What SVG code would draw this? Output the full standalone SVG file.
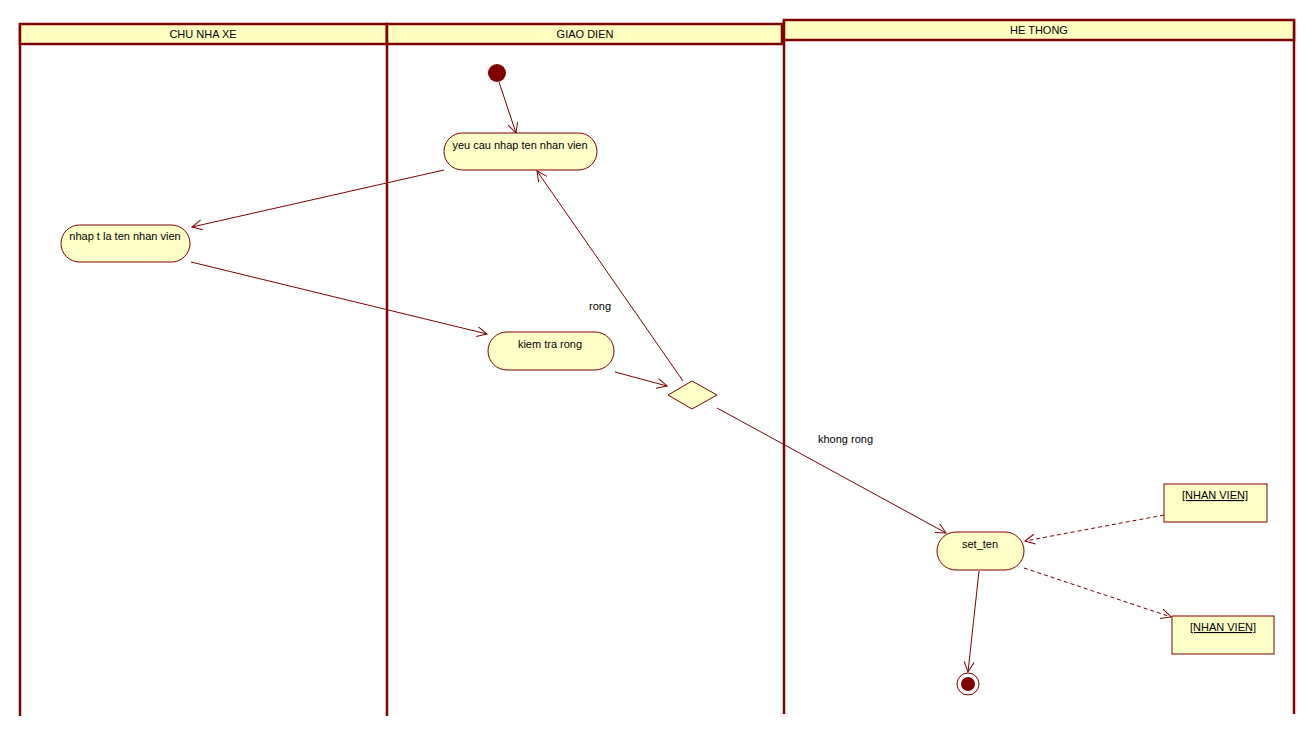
<svg xmlns="http://www.w3.org/2000/svg" width="1316" height="736" viewBox="0 0 1316 736">
  <style>
    .lane { fill: none; stroke: #800000; stroke-width: 2.5; }
    .hdr { fill: #ffffc0; stroke: #800000; stroke-width: 2.5; }
    .act { fill: #ffffc8; stroke: #800000; stroke-width: 1; }
    .obj { fill: #ffffc8; stroke: #800000; stroke-width: 1; }
    .dec { fill: #ffffc8; stroke: #800000; stroke-width: 1; }
    .t { font-family: "Liberation Sans", Arial, sans-serif; font-size: 11px; fill: #000; text-anchor: middle; }
    .lbl { font-family: "Liberation Sans", Arial, sans-serif; font-size: 11px; fill: #000; }
    .u { text-decoration: underline; }
    .flow { fill: none; stroke: #800000; stroke-width: 1; }
    .dash { fill: none; stroke: #800000; stroke-width: 1; stroke-dasharray: 4 3; }
  </style>
  <defs>
    <marker id="open" viewBox="0 0 12 12" refX="11" refY="6" markerWidth="12" markerHeight="12" markerUnits="userSpaceOnUse" orient="auto">
      <path d="M1,1 L11,6 L1,11" fill="none" stroke="#800000" stroke-width="1"/>
    </marker>
  </defs>
  <rect width="1316" height="736" fill="#ffffff"/>

  <!-- swimlanes -->
  <g id="lane-chu-nha-xe">
    <line class="lane" x1="20" y1="24" x2="20" y2="716"/>
    <rect class="hdr" x="20" y="24" width="367" height="20"/>
    <text class="t" x="203" y="38">CHU NHA XE</text>
  </g>
  <g id="lane-giao-dien">
    <line class="lane" x1="387" y1="24" x2="387" y2="716"/>
    <rect class="hdr" x="387" y="24" width="395" height="20"/>
    <text class="t" x="585" y="38">GIAO DIEN</text>
  </g>
  <g id="lane-he-thong">
    <line class="lane" x1="784" y1="20" x2="784" y2="714"/>
    <line class="lane" x1="1294" y1="20" x2="1294" y2="714"/>
    <rect class="hdr" x="784" y="20" width="510" height="20"/>
    <text class="t" x="1039" y="34">HE THONG</text>
  </g>

  <!-- connectors -->
  <g id="connectors">
    <line class="flow" x1="499" y1="82" x2="516" y2="133" marker-end="url(#open)"/>
    <line class="flow" x1="444" y1="170" x2="192" y2="227" marker-end="url(#open)"/>
    <line class="flow" x1="191" y1="262" x2="487" y2="334" marker-end="url(#open)"/>
    <line class="flow" x1="615" y1="372" x2="667" y2="386" marker-end="url(#open)"/>
    <line class="flow" x1="683" y1="381" x2="537" y2="171" marker-end="url(#open)"/>
    <line class="flow" x1="717" y1="408" x2="946" y2="533" marker-end="url(#open)"/>
    <line class="dash" x1="1164" y1="515" x2="1025" y2="541" marker-end="url(#open)"/>
    <line class="dash" x1="1024" y1="568" x2="1171" y2="617" marker-end="url(#open)"/>
    <line class="flow" x1="979" y1="571" x2="968" y2="672" marker-end="url(#open)"/>
    <text class="lbl" x="589" y="310">rong</text>
    <text class="lbl" x="818" y="443">khong rong</text>
  </g>

  <!-- nodes -->
  <g id="start">
    <circle cx="497" cy="73" r="9" fill="#800000"/>
  </g>
  <g id="yeu-cau-nhap-ten">
    <rect class="act" x="444" y="133" width="153" height="37" rx="18.5"/>
    <text class="t" x="520" y="149">yeu cau nhap ten nhan vien</text>
  </g>
  <g id="nhap-ten">
    <rect class="act" x="61" y="225" width="129" height="37" rx="18.5"/>
    <text class="t" x="125" y="240">nhap t la ten nhan vien</text>
  </g>
  <g id="kiem-tra-rong">
    <rect class="act" x="488" y="332" width="126" height="38" rx="19"/>
    <text class="t" x="550" y="348">kiem tra rong</text>
  </g>
  <g id="decision">
    <polygon class="dec" points="668,395 692,381 717,395 692,409"/>
  </g>
  <g id="set-ten">
    <rect class="act" x="937" y="532" width="87" height="38" rx="19"/>
    <text class="t" x="980" y="548">set_ten</text>
  </g>
  <g id="nhan-vien-in">
    <rect class="obj" x="1164" y="484" width="103" height="38"/>
    <text class="t u" x="1215" y="499">[NHAN VIEN]</text>
  </g>
  <g id="nhan-vien-out">
    <rect class="obj" x="1172" y="616" width="102" height="38"/>
    <text class="t u" x="1223" y="631">[NHAN VIEN]</text>
  </g>
  <g id="end">
    <circle cx="968" cy="684" r="11" fill="#ffffff" stroke="#800000" stroke-width="1"/>
    <circle cx="968" cy="684" r="7" fill="#800000"/>
  </g>
</svg>
